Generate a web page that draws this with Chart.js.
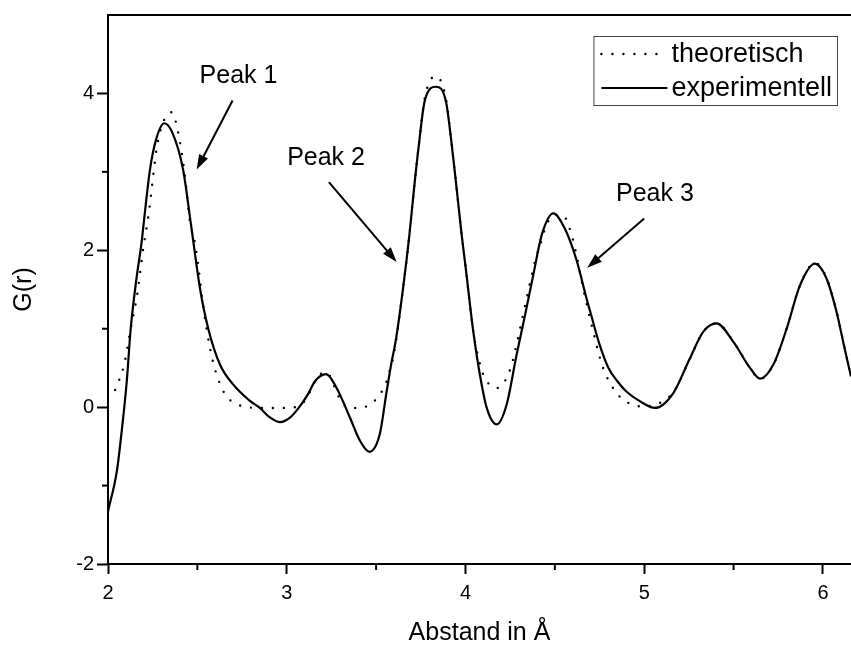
<!DOCTYPE html>
<html>
<head>
<meta charset="utf-8">
<script src="https://cdn.jsdelivr.net/npm/chart.js@4.4.1/dist/chart.umd.min.js"></script>
<style>
  html, body { margin: 0; padding: 0; background: #fff; }
  #wrap { width: 851px; height: 648px; }
</style>
</head>
<body>
<div id="wrap"><canvas id="c" width="851" height="648"></canvas></div>
<script>
// G(r) curves (x in Angstrom)
const theoX = [2.04, 2.09, 2.127, 2.163, 2.197, 2.226, 2.278, 2.356, 2.397, 2.435, 2.453, 2.492, 2.537, 2.571, 2.602, 2.656, 2.72, 2.78, 2.85, 2.95, 3.05,
  3.108, 3.14, 3.177, 3.227, 3.26, 3.289, 3.34, 3.41, 3.475, 3.527, 3.559, 3.578, 3.597, 3.65, 3.686, 3.712, 3.736, 3.773, 3.835, 3.891, 3.922, 3.95,
  3.979, 4.0, 4.044, 4.09, 4.119, 4.178, 4.23, 4.258, 4.314, 4.35, 4.388, 4.417, 4.454, 4.5, 4.547, 4.603, 4.631, 4.659, 4.715, 4.77, 4.846, 4.911,
  4.976, 5.04, 5.105, 5.166, 5.256, 5.33, 5.405, 5.498, 5.592, 5.648, 5.722, 5.797, 5.871, 5.955, 6.02, 6.076, 6.113, 6.157];
const theoY = [0.22, 0.54, 1.0, 1.43, 2.02, 2.44, 3.37, 3.76, 3.45, 2.86, 2.45, 2.02, 1.215, 0.75, 0.456, 0.16, 0.04, 0.0, -0.01, -0.01, 0.0,
  0.1, 0.245, 0.4, 0.44, 0.295, 0.14, 0.0, -0.01, 0.05, 0.18, 0.33, 0.485, 0.64, 1.5, 2.19, 2.78, 3.28, 3.95, 4.22, 3.93, 3.37, 2.8,
  2.19, 1.8, 0.96, 0.48, 0.33, 0.245, 0.37, 0.54, 1.09, 1.47, 1.85, 2.06, 2.33, 2.45, 2.44, 2.12, 1.83, 1.51, 0.96, 0.5, 0.18, 0.055,
  0.01, 0.02, 0.076, 0.2, 0.62, 0.96, 1.07, 0.84, 0.5, 0.36, 0.54, 1.0, 1.55, 1.84, 1.65, 1.22, 0.84, 0.39];

const expX = [2.0, 2.05, 2.077, 2.105, 2.127, 2.16, 2.188, 2.2, 2.235, 2.27, 2.315, 2.36, 2.42, 2.463, 2.515, 2.561, 2.627, 2.7, 2.794, 2.85, 2.9,
  2.962, 3.02, 3.07, 3.12, 3.158, 3.22, 3.279, 3.354, 3.41, 3.462, 3.52, 3.559, 3.587, 3.609, 3.65, 3.686, 3.712, 3.736, 3.773, 3.835, 3.891,
  3.922, 3.95, 3.979, 4.0, 4.044, 4.081, 4.119, 4.175, 4.23, 4.286, 4.333, 4.379, 4.426, 4.491, 4.557, 4.622, 4.678, 4.7, 4.75, 4.8, 4.85,
  4.9, 4.98, 5.06, 5.163, 5.256, 5.33, 5.405, 5.498, 5.592, 5.648, 5.722, 5.797, 5.871, 5.955, 6.02, 6.076, 6.113, 6.157];
const expY = [-1.33, -0.81, -0.3, 0.33, 1.0, 1.65, 2.1, 2.35, 3.03, 3.42, 3.62, 3.5, 3.03, 2.35, 1.51, 1.0, 0.54, 0.29, 0.08, -0.01, -0.12,
  -0.19, -0.13, 0.0, 0.17, 0.33, 0.42, 0.245, -0.135, -0.43, -0.57, -0.35, 0.2, 0.58, 0.835, 1.5, 2.19, 2.78, 3.28, 3.915, 4.085, 3.895,
  3.37, 2.8, 2.19, 1.8, 0.96, 0.41, -0.01, -0.22, 0.03, 0.667, 1.17, 1.68, 2.19, 2.47, 2.27, 1.87, 1.38, 1.2, 0.8, 0.5, 0.33,
  0.2, 0.07, -0.01, 0.18, 0.624, 0.96, 1.067, 0.835, 0.5, 0.363, 0.54, 1.0, 1.55, 1.83, 1.64, 1.215, 0.835, 0.39];

const seriesNames = ['theoretisch', 'experimentell'];

// arrow annotations (data coordinates)
const peakLabels = ['Peak 1', 'Peak 2', 'Peak 3'];
const peakTextX = [2.73, 3.22, 5.06];
const peakTextY = [4.22, 3.18, 2.72];
const arrowFromX = [2.697, 3.236, 5.0];
const arrowFromY = [3.91, 2.87, 2.405];
const arrowToX = [2.496, 3.615, 4.681];
const arrowToY = [3.03, 1.85, 1.776];

const FONT = '"Liberation Sans", Arial, sans-serif';

function pts(xs, ys) {
  return xs.map((v, i) => ({x: v, y: ys[i]}));
}

const overlay = {
  id: 'overlay',
  afterDraw(chart) {
    const ctx = chart.ctx;
    const area = chart.chartArea;
    const x = chart.scales.x, y = chart.scales.y;
    ctx.save();
    ctx.strokeStyle = '#000';
    ctx.fillStyle = '#000';
    ctx.lineWidth = 2;

    // minor ticks
    x.ticks.filter(t => t.value % 1 !== 0).forEach(t => {
      const px = x.getPixelForValue(t.value);
      ctx.beginPath(); ctx.moveTo(px, area.bottom); ctx.lineTo(px, area.bottom + 6); ctx.stroke();
    });
    y.ticks.filter(t => Math.abs(t.value % 2) === 1 && t.value < 5).forEach(t => {
      const py = y.getPixelForValue(t.value);
      ctx.beginPath(); ctx.moveTo(area.left, py); ctx.lineTo(area.left - 6, py); ctx.stroke();
    });

    // peak labels + arrows
    ctx.font = '25px ' + FONT;
    ctx.textAlign = 'center';
    ctx.textBaseline = 'middle';
    ctx.lineWidth = 2;
    for (let i = 0; i < peakLabels.length; i++) {
      ctx.fillText(peakLabels[i], x.getPixelForValue(peakTextX[i]), y.getPixelForValue(peakTextY[i]));
      const x0 = x.getPixelForValue(arrowFromX[i]), y0 = y.getPixelForValue(arrowFromY[i]);
      const x1 = x.getPixelForValue(arrowToX[i]), y1 = y.getPixelForValue(arrowToY[i]);
      const a = Math.atan2(y1 - y0, x1 - x0);
      const hl = 15, hw = 5;
      const bx = x1 - hl * Math.cos(a), by = y1 - hl * Math.sin(a);
      ctx.beginPath(); ctx.moveTo(x0, y0); ctx.lineTo(bx, by); ctx.stroke();
      ctx.beginPath();
      ctx.moveTo(x1, y1);
      ctx.lineTo(bx + hw * Math.sin(a), by - hw * Math.cos(a));
      ctx.lineTo(bx - hw * Math.sin(a), by + hw * Math.cos(a));
      ctx.closePath(); ctx.fill();
    }

    // legend box
    ctx.font = '27px ' + FONT;
    ctx.textAlign = 'left';
    const right = 837, top = 36, rowH = 34, sample = 66, gap = 4;
    const tw = Math.max(...seriesNames.map(s => ctx.measureText(s).width));
    const left = right - 5 - tw - gap - sample - 8;
    ctx.lineWidth = 1;
    ctx.strokeStyle = '#444';
    ctx.strokeRect(left + 0.5, top + 0.5, right - left, rowH * 2 + 1);
    chart.data.datasets.forEach((ds, i) => {
      const cy = top + rowH / 2 + 1 + i * rowH;
      ctx.strokeStyle = '#000';
      ctx.lineWidth = ds.borderWidth;
      ctx.lineCap = ds.borderCapStyle;
      ctx.setLineDash(ds.borderDash);
      ctx.beginPath(); ctx.moveTo(left + 8, cy); ctx.lineTo(left + 8 + sample, cy); ctx.stroke();
      ctx.setLineDash([]);
      ctx.fillText(ds.label, left + 8 + sample + gap, cy + 1);
    });
    ctx.restore();
  }
};

new Chart(document.getElementById('c'), {
  type: 'line',
  data: {
    datasets: [
      {
        label: seriesNames[0],
        data: pts(theoX, theoY),
        borderColor: '#000',
        borderWidth: 2.4,
        borderDash: [0, 11],
        borderCapStyle: 'round',
        pointRadius: 0,
        cubicInterpolationMode: 'monotone',
        fill: false
      },
      {
        label: seriesNames[1],
        data: pts(expX, expY),
        borderColor: '#000',
        borderWidth: 2.2,
        borderDash: [],
        borderCapStyle: 'butt',
        pointRadius: 0,
        cubicInterpolationMode: 'monotone',
        fill: false
      }
    ]
  },
  options: {
    responsive: false,
    animation: false,
    layout: { padding: { top: 12, right: 0, left: 0, bottom: 0 } },
    plugins: { legend: { display: false }, tooltip: { enabled: false } },
    scales: {
      x: {
        type: 'linear',
        min: 2,
        max: 6.157,
        afterFit(s) { s.height = 84; },
        border: { display: true, color: '#000', width: 2 },
        grid: {
          drawOnChartArea: false,
          tickLength: 10,
          tickWidth: 2,
          tickColor: c => (c.tick && c.tick.value % 1 === 0) ? '#000' : 'rgba(0,0,0,0)'
        },
        ticks: {
          stepSize: 0.5,
          includeBounds: false,
          autoSkip: false,
          maxRotation: 0,
          padding: 7,
          color: '#000',
          font: { family: FONT, size: 20 },
          callback: v => (v % 1 === 0 ? String(v) : '')
        },
        title: {
          display: true,
          text: 'Abstand in Å',
          color: '#000',
          font: { family: FONT, size: 25 },
          padding: { top: 4, bottom: 0 }
        }
      },
      x2: {
        type: 'linear',
        position: 'top',
        min: 2,
        max: 6.157,
        afterFit(s) { s.height = 0; },
        border: { display: true, color: '#000', width: 2 },
        grid: { display: false },
        ticks: { display: false }
      },
      y: {
        min: -2,
        max: 5,
        afterFit(s) { s.width = 108; },
        border: { display: true, color: '#000', width: 2 },
        grid: {
          drawOnChartArea: false,
          tickLength: 11,
          tickWidth: 2,
          tickColor: c => (c.tick && c.tick.value % 2 === 0 && c.tick.value < 5) ? '#000' : 'rgba(0,0,0,0)'
        },
        ticks: {
          stepSize: 1,
          includeBounds: false,
          autoSkip: false,
          padding: 3,
          color: '#000',
          font: { family: FONT, size: 20 },
          callback: v => (v % 2 === 0 && v < 5 ? String(v) : '')
        },
        title: {
          display: true,
          text: 'G(r)',
          color: '#000',
          font: { family: FONT, size: 25 },
          padding: { top: 9, bottom: 10 }
        }
      }
    }
  },
  plugins: [overlay]
});
</script>
</body>
</html>
